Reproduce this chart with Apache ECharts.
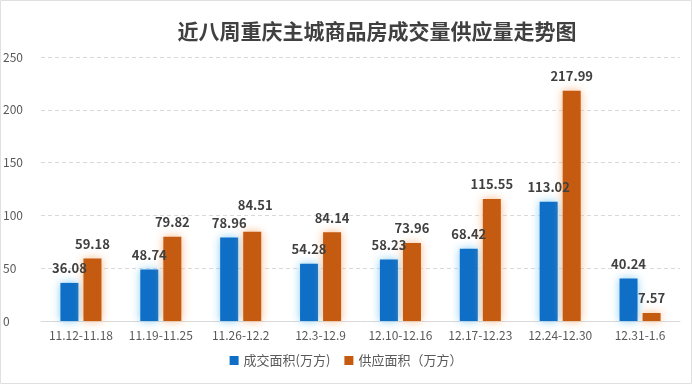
<!DOCTYPE html>
<html><head><meta charset="utf-8">
<script src="https://cdn.jsdelivr.net/npm/echarts@6/dist/echarts.min.js"></script>
<style>html,body{margin:0;padding:0;background:#fff}#c{width:692px;height:384px}</style>
</head><body><div id="c"></div>
<script>
var categories = ['11.12-11.18','11.19-11.25','11.26-12.2','12.3-12.9','12.10-12.16','12.17-12.23','12.24-12.30','12.31-1.6'];
var dealValues = [36.08, 48.74, 78.96, 54.28, 58.23, 68.42, 113.02, 40.24];
var supplyValues = [59.18, 79.82, 84.51, 84.14, 73.96, 115.55, 217.99, 7.57];
var yTicks = [0, 50, 100, 150, 200, 250];

var font = '"Noto Sans CJK SC", "Microsoft YaHei", sans-serif';
var chart = echarts.init(document.getElementById('c'));
var labelStyle = {show: true, position: 'top', distance: 8, color: '#404040', fontSize: 13, fontWeight: 'bold', fontFamily: font};
var supplyData = supplyValues.map(function (v, i) {
  return i === 2 ? {value: v, label: {distance: 20, offset: [3, 0]}} : v;
});
chart.setOption({
  animation: false,
  textStyle: {fontFamily: font},
  title: {text: '近八周重庆主城商品房成交量供应量走势图', left: 372, top: 16, textAlign: 'center',
    textStyle: {fontSize: 21, fontWeight: 'bold', color: '#404040', fontFamily: font}},
  grid: {left: 32, right: 12, top: 57, bottom: 63, containLabel: false},
  legend: {bottom: 12, left: 'center', itemWidth: 9, itemHeight: 9, itemGap: 14,
    textStyle: {fontSize: 13, color: '#595959', fontFamily: font},
    data: [{name: '成交面积(万方)', icon: 'rect'}, {name: '供应面积（万方）', icon: 'rect'}]},
  xAxis: {type: 'category', data: categories,
    axisLine: {lineStyle: {color: '#d9d9d9'}}, axisTick: {show: false},
    axisLabel: {color: '#595959', fontSize: 12, margin: 8, interval: 0}},
  yAxis: {type: 'value', min: yTicks[0], max: yTicks[yTicks.length-1], interval: 50,
    axisLine: {show: false}, axisTick: {show: false},
    axisLabel: {color: '#595959', fontSize: 12, margin: 12, align: 'left', padding: [0,0,0,-26]},
    splitLine: {lineStyle: {color: '#d9d9d9', type: [4, 3]}}},
  series: [
    {name: '成交面积(万方)', type: 'bar', data: dealValues, barWidth: 18, barGap: '28%',
      itemStyle: {color: '#0f6fc6', shadowColor: 'rgba(120,200,245,0.9)', shadowBlur: 8},
      label: labelStyle},
    {name: '供应面积（万方）', type: 'bar', data: supplyData, barWidth: 18,
      itemStyle: {color: '#c55a11', shadowColor: 'rgba(248,180,130,0.95)', shadowBlur: 8},
      label: labelStyle}
  ],
  graphic: [{type: 'rect', shape: {x: 0.5, y: 0.5, width: 691, height: 383}, style: {fill: 'none', stroke: '#e0e0e0', lineWidth: 1}, silent: true}]
});
</script></body></html>
